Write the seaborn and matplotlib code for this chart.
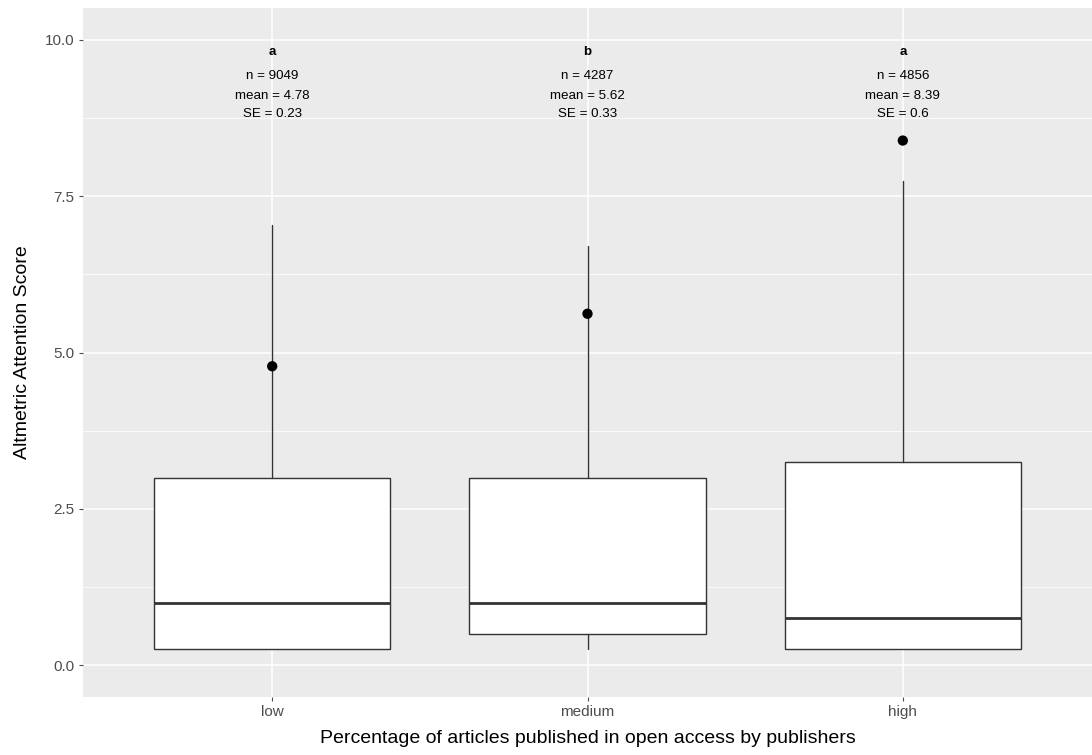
import matplotlib
matplotlib.use("Agg")
import matplotlib.pyplot as plt
import seaborn as sns
import numpy as np

categories = ["low", "medium", "high"]
whisker_low = [0.25, 0.25, 0.25]
q1 = [0.25, 0.5, 0.25]
median = [1.0, 1.0, 0.75]
q3 = [3.0, 3.0, 3.25]
whisker_high = [7.04, 6.7, 7.75]
means = [4.78, 5.62, 8.39]
letters = ["a", "b", "a"]
n_obs = [9049, 4287, 4856]
mean_labels = ["4.78", "5.62", "8.39"]
se_labels = ["0.23", "0.33", "0.6"]

sns.set_theme(style="darkgrid", rc={
    "axes.facecolor": "#EBEBEB",
    "grid.color": "white",
    "axes.edgecolor": "#EBEBEB",
})
plt.rcParams["font.family"] = ["Liberation Sans", "DejaVu Sans"]

fig = plt.figure(figsize=(10.92, 7.55), dpi=100)
ax = fig.add_axes([83 / 1092, 58 / 755, 1 - 83 / 1092, (697 - 8) / 755])

stats = []
for i, c in enumerate(categories):
    stats.append(dict(label=c, whislo=whisker_low[i], q1=q1[i], med=median[i],
                      q3=q3[i], whishi=whisker_high[i], fliers=[]))

positions = np.arange(len(categories))
ax.bxp(stats, positions=positions, widths=0.75, showcaps=False, showfliers=False,
       patch_artist=True,
       boxprops=dict(facecolor="white", edgecolor="#333333", linewidth=1.0),
       medianprops=dict(color="#333333", linewidth=2.0),
       whiskerprops=dict(color="#333333", linewidth=1.0), zorder=3)

sns.scatterplot(x=positions, y=means, color="black", s=55, edgecolor="none",
                ax=ax, zorder=4)

for i in range(len(categories)):
    ax.text(positions[i], 9.81, letters[i], ha="center", va="center",
            fontsize=9.6, fontweight="bold", color="black", zorder=5)
    ax.text(positions[i], 9.42, f"n = {n_obs[i]}", ha="center", va="center",
            fontsize=9.6, color="black", zorder=5)
    ax.text(positions[i], 9.11, f"mean = {mean_labels[i]}", ha="center", va="center",
            fontsize=9.6, color="black", zorder=5)
    ax.text(positions[i], 8.82, f"SE = {se_labels[i]}", ha="center", va="center",
            fontsize=9.6, color="black", zorder=5)

ax.set_xlim(-0.6, 2.6)
ax.set_ylim(-0.51, 10.51)
ax.set_xticks(positions)
ax.set_xticklabels(categories)
ax.set_yticks([0, 2.5, 5, 7.5, 10])
ax.set_yticklabels(["0.0", "2.5", "5.0", "7.5", "10.0"])
ax.set_yticks([1.25, 3.75, 6.25, 8.75], minor=True)
ax.grid(True, which="major", color="white", linewidth=1.1)
ax.grid(True, which="minor", axis="y", color="white", linewidth=0.55)
ax.set_axisbelow(True)
ax.tick_params(axis="both", which="major", colors="#4D4D4D", labelsize=11,
               length=3, width=0.8, direction="out", pad=3, left=True, bottom=True)
ax.tick_params(axis="y", which="minor", length=0)
for lab in ax.get_xticklabels() + ax.get_yticklabels():
    lab.set_color("#4D4D4D")
for s in ax.spines.values():
    s.set_visible(False)

ax.set_xlabel("Percentage of articles published in open access by publishers",
              fontsize=14, color="black", labelpad=8)
ax.set_ylabel("Altmetric Attention Score", fontsize=14, color="black", labelpad=10)

fig.savefig("out.png", dpi=100)
